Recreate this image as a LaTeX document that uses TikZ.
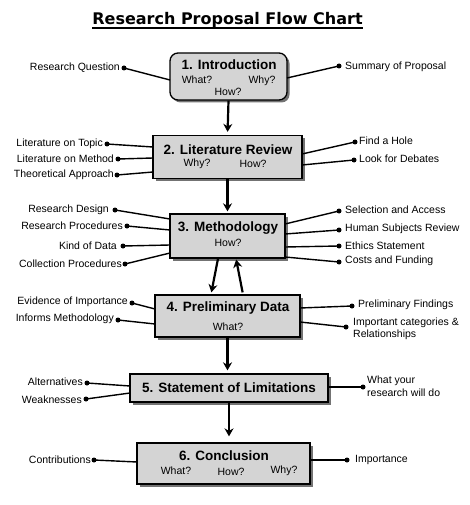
\documentclass[tikz,border=0pt]{standalone}
\usepackage{fontspec}
\setmainfont{Liberation Sans}
\newfontfamily\titlefont{DejaVu Sans}
\usetikzlibrary{shadows,arrows.meta}
\definecolor{boxgray}{RGB}{212,212,212}
\begin{document}
\begin{tikzpicture}[x=1pt,y=-1pt,
  box/.style={draw=black, line width=1.3pt, fill=boxgray, inner sep=0pt,
    drop shadow={shadow xshift=2.5pt, shadow yshift=-2.5pt, fill=black, opacity=0.55}},
  btitle/.style={font=\fontsize{13.5}{15}\selectfont\bfseries, inner sep=0pt},
  bsub/.style={font=\fontsize{10.5}{12}\selectfont, inner sep=0pt},
  lbl/.style={font=\fontsize{10.5}{12.5}\selectfont, inner sep=0pt},
  lblL/.style={lbl, anchor=east},
  lblR/.style={lbl, anchor=west, align=left},
  dot/.style={circle, fill=black, inner sep=0pt, minimum size=5pt},
  conn/.style={line width=1.4pt},
  arr/.style={line width=2.2pt, -{Stealth[length=8pt,width=9pt]}}]
\useasboundingbox[fill=white] (0,0) rectangle (470,505);

% title
\node[font=\titlefont\fontsize{16}{18}\selectfont\bfseries, inner sep=0pt, anchor=base] (title) at (227.5,25) {Research Proposal Flow Chart};
\draw[line width=1.5pt] (title.base west) ++(0,3) coordinate (ul1) (title.base east) ++(0,3) coordinate (ul2);
\draw[line width=1.5pt] (ul1) -- (ul2);

% boxes
\node[box, rounded corners=8pt, minimum width=117pt, minimum height=47pt] (b1) at (228.5,76.5) {};
\node[box, minimum width=149pt, minimum height=43pt] (b2) at (227.5,157) {};
\node[box, minimum width=115pt, minimum height=44pt] (b3) at (227.5,236) {};
\node[box, minimum width=145pt, minimum height=42pt] (b4) at (227.5,316) {};
\node[box, minimum width=198pt, minimum height=28pt] (b5) at (229,388) {};
\node[box, minimum width=173pt, minimum height=41pt] (b6) at (223.5,463.5) {};

% box texts
\node[btitle] (t1) at (229,65) {1. Introduction};
\node[bsub] (t1a) at (197,80) {What?};
\node[bsub] (t1b) at (262,81) {Why?};
\node[bsub] (t1c) at (228,92) {How?};
\node[btitle] (t2) at (228,150) {2. Literature Review};
\node[bsub] (t2a) at (197,164) {Why?};
\node[bsub] (t2b) at (253,164) {How?};
\node[btitle] (t3) at (228,228) {3. Methodology};
\node[bsub] (t3a) at (228,243) {How?};
\node[btitle] (t4) at (228,308) {4. Preliminary Data};
\node[bsub] (t4a) at (228,327) {What?};
\node[btitle] (t5) at (229,388) {5. Statement of Limitations};
\node[btitle] (t6) at (224,456) {6. Conclusion};
\node[bsub] (t6a) at (176,471) {What?};
\node[bsub] (t6b) at (231,472) {How?};
\node[bsub] (t6c) at (284,471) {Why?};

% arrows
\draw[arr, shorten >=3pt] (b1.south) -- (b2.north);
\draw[arr, shorten >=2pt] (b2.south) -- (b3.north);
\draw[arr, shorten >=2pt] ([xshift=-9.5pt]b3.south) -- ([xshift=-16.5pt]b4.north);
\draw[arr, shorten <=2pt, shorten >=1pt] ([xshift=15.5pt]b4.north) -- ([xshift=8.5pt]b3.south);
\draw[arr, shorten >=3pt] (b4.south) -- (b4.south |- b5.north);
\draw[arr, shorten >=6pt] (b5.south) -- (b5.south |- b6.north);

% box border attachment points
\coordinate (c1a) at (170,80);  \coordinate (c1b) at (287,78);
\coordinate (c2a) at (153,147); \coordinate (c2b) at (153,158); \coordinate (c2c) at (153,172);
\coordinate (c2d) at (302,154); \coordinate (c2e) at (302,165);
\coordinate (c3a) at (170,219); \coordinate (c3b) at (170,230); \coordinate (c3c) at (170,245); \coordinate (c3d) at (170,253);
\coordinate (c3e) at (285,224); \coordinate (c3f) at (285,234); \coordinate (c3g) at (285,247); \coordinate (c3h) at (285,257);
\coordinate (c4a) at (155,309); \coordinate (c4b) at (155,324);
\coordinate (c4c) at (300,308); \coordinate (c4d) at (300,322);
\coordinate (c5a) at (130,386); \coordinate (c5b) at (130,393); \coordinate (c5c) at (328,387);
\coordinate (c6a) at (137,462); \coordinate (c6b) at (310,460);

% dots
\node[dot] (d1a) at (124,68) {};  \node[dot] (d1b) at (339,66) {};
\node[dot] (d2a) at (107,144) {}; \node[dot] (d2b) at (118,159) {}; \node[dot] (d2c) at (117,175) {};
\node[dot] (d2d) at (355,142) {}; \node[dot] (d2e) at (354,160) {};
\node[dot] (d3a) at (115,210) {}; \node[dot] (d3b) at (127,226) {}; \node[dot] (d3c) at (123,246) {}; \node[dot] (d3d) at (125,264) {};
\node[dot] (d3e) at (339,211) {}; \node[dot] (d3f) at (339,230) {}; \node[dot] (d3g) at (339,246) {}; \node[dot] (d3h) at (339,262) {};
\node[dot] (d4a) at (132,303) {}; \node[dot] (d4b) at (118,320) {};
\node[dot] (d4c) at (352,306) {}; \node[dot] (d4d) at (346,327) {};
\node[dot] (d5a) at (87,383) {};  \node[dot] (d5b) at (86,399) {}; \node[dot] (d5c) at (363,387) {};
\node[dot] (d6a) at (94,460) {};  \node[dot] (d6b) at (347,460) {};

% connectors
\foreach \d/\c in {d1a/c1a,d1b/c1b,d2a/c2a,d2b/c2b,d2c/c2c,d2d/c2d,d2e/c2e,
  d3a/c3a,d3b/c3b,d3c/c3c,d3d/c3d,d3e/c3e,d3f/c3f,d3g/c3g,d3h/c3h,
  d4a/c4a,d4b/c4b,d4c/c4c,d4d/c4d,d5a/c5a,d5b/c5b,d5c/c5c,d6a/c6a,d6b/c6b}
  \draw[conn] (\d.center) -- (\c);

% labels
\node[lblL] (l1a) at (120,68) {Research Question};
\node[lblR] (l1b) at (345,67) {Summary of Proposal};
\node[lblL] (l2a) at (103,144) {Literature on Topic};
\node[lblL] (l2b) at (114,159) {Literature on Method};
\node[lblL] (l2c) at (114,175) {Theoretical Approach};
\node[lblR] (l2d) at (359,141) {Find a Hole};
\node[lblR] (l2e) at (359,159) {Look for Debates};
\node[lblL] (l3a) at (109,210) {Research Design};
\node[lblL] (l3b) at (123,226) {Research Procedures};
\node[lblL] (l3c) at (117,246) {Kind of Data};
\node[lblL] (l3d) at (122,264) {Collection Procedures};
\node[lblR] (l3e) at (345,210) {Selection and Access};
\node[lblR] (l3f) at (345,229) {Human Subjects Review};
\node[lblR] (l3g) at (345,246) {Ethics Statement};
\node[lblR] (l3h) at (345,261) {Costs and Funding};
\node[lblL] (l4a) at (128,302) {Evidence of Importance};
\node[lblL] (l4b) at (114,319) {Informs Methodology};
\node[lblR] (l4c) at (358,305) {Preliminary Findings};
\node[lblR] (l4d) at (353,329) {Important categories \&\\Relationships};
\node[lblL] (l5a) at (83,382) {Alternatives};
\node[lblL] (l5b) at (82,400) {Weaknesses};
\node[lblR] (l5c) at (367,386) {What your\\research will do};
\node[lblL] (l6a) at (91,460) {Contributions};
\node[lblR] (l6b) at (355,460) {Importance};
\end{tikzpicture}
\end{document}
